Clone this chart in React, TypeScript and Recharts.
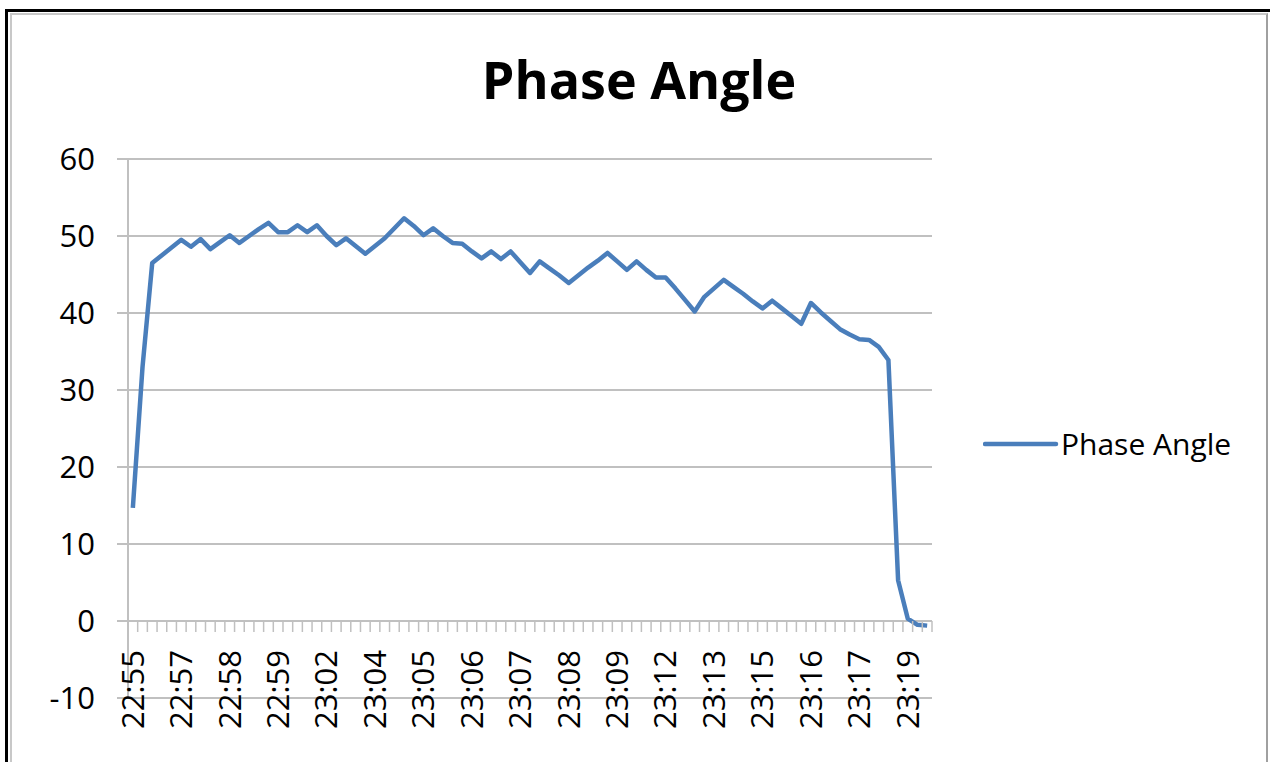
import { CartesianGrid, Legend, Line, LineChart, ReferenceLine, XAxis, YAxis } from "recharts";

// tick labels shown on every 5th category
const TIME_LABELS = [
  "22:55", "22:57", "22:58", "22:59", "23:02", "23:04", "23:05", "23:06", "23:07",
  "23:08", "23:09", "23:12", "23:13", "23:15", "23:16", "23:17", "23:19",
];

const PHASE_ANGLE = [
  14.7, 33, 46.5, 47.5, 48.5, 49.5, 48.6, 49.6, 48.3, 49.2,
  50.1, 49.1, 50, 50.9, 51.7, 50.5, 50.5, 51.4, 50.5, 51.4,
  50, 48.8, 49.7, 48.7, 47.7, 48.7, 49.7, 51, 52.3, 51.3,
  50.1, 51, 50, 49.1, 49, 48, 47.1, 48, 47, 48,
  46.6, 45.2, 46.7, 45.8, 44.9, 43.9, 44.9, 45.9, 46.8, 47.8,
  46.7, 45.6, 46.7, 45.6, 44.6, 44.6, 43.2, 41.7, 40.2, 42.1,
  43.2, 44.3, 43.4, 42.5, 41.5, 40.6, 41.6, 40.6, 39.6, 38.6,
  41.3, 40.1, 39, 37.9, 37.2, 36.6, 36.5, 35.6, 33.9, 5.3,
  0.3, -0.5, -0.6,
];

const Y_TICKS = [-10, 0, 10, 20, 30, 40, 50, 60];

const data = PHASE_ANGLE.map((value, i) => ({ i, value }));

const W = 1270;
const H = 762;
const PLOT = { left: 128, right: 932, top: 159, bottom: 698 };
const BAND = (PLOT.right - PLOT.left) / PHASE_ANGLE.length;
const Y_MIN = -10;
const Y_MAX = 60;
const ZERO_Y = PLOT.top + ((PLOT.bottom - PLOT.top) * Y_MAX) / (Y_MAX - Y_MIN);

const GRID = "#c0c0c0";
const BLUE = "#4a7ebb";
const FONT = "'Open Sans', sans-serif";

function TimeTick(props: any) {
  const { x, payload } = props;
  const i = Number(payload.value);
  const label = i % 5 === 0 ? TIME_LABELS[i / 5] : null;
  const top = 650;
  return (
    <g>
      <line x1={x + BAND / 2} x2={x + BAND / 2} y1={ZERO_Y} y2={ZERO_Y + 11} stroke={GRID} strokeWidth={1.5} />
      {label && (
        <text
          x={x}
          y={top}
          dy="0.35em"
          transform={`rotate(-90 ${x} ${top})`}
          textAnchor="end"
          fontSize={31}
          fontFamily={FONT}
          fill="#000"
        >
          {label}
        </text>
      )}
    </g>
  );
}

function LegendContent(props: any) {
  const items = props.payload ?? [];
  return (
    <div style={{ display: "flex", alignItems: "center" }}>
      {items.map((p: any) => (
        <div key={p.value} style={{ display: "flex", alignItems: "center" }}>
          <svg width={76} height={8}>
            <line x1={2} x2={73} y1={4} y2={4} stroke={p.color} strokeWidth={4.5} strokeLinecap="round" />
          </svg>
          <span style={{ fontSize: 30, fontFamily: FONT, color: "#000", marginLeft: 2 }}>{p.value}</span>
        </div>
      ))}
    </div>
  );
}

export default function App() {
  return (
    <div style={{ position: "relative", width: W, height: H, overflow: "hidden", background: "#fff" }}>
      <style>{"body{margin:0}"}</style>
      <div
        style={{
          position: "absolute",
          left: 5,
          top: 9,
          width: W,
          height: H,
          borderLeft: "3px solid #000",
          borderTop: "3px solid #000",
        }}
      />
      <div
        style={{
          position: "absolute",
          left: 10,
          top: 13,
          width: 1254,
          height: H,
          borderLeft: "2px solid #c8c8c8",
          borderTop: "2px solid #c8c8c8",
          borderRight: "2px solid #a0a0a0",
        }}
      />
      <div
        style={{
          position: "absolute",
          left: 639,
          top: 44,
          transform: "translateX(-50%)",
          fontFamily: FONT,
          fontWeight: 700,
          fontSize: 52,
          color: "#000",
          whiteSpace: "nowrap",
          lineHeight: "70px",
        }}
      >
        Phase Angle
      </div>
      <div style={{ position: "absolute", left: 0, top: 0 }}>
        <LineChart
          width={W}
          height={H}
          data={data}
          margin={{ top: PLOT.top, right: W - PLOT.right, bottom: H - PLOT.bottom - 30, left: 0 }}
        >
          <CartesianGrid vertical={false} stroke={GRID} strokeWidth={2} />
          <XAxis
            dataKey="i"
            type="category"
            interval={0}
            height={30}
            padding={{ left: BAND / 2, right: BAND / 2 }}
            axisLine={false}
            tickLine={false}
            tick={<TimeTick />}
          />
          <YAxis
            domain={[Y_MIN, Y_MAX]}
            ticks={Y_TICKS}
            interval={0}
            width={PLOT.left}
            tickSize={11}
            tickMargin={22}
            axisLine={{ stroke: GRID, strokeWidth: 2 }}
            tickLine={{ stroke: GRID, strokeWidth: 2 }}
            tick={{ fontSize: 31, fontFamily: FONT, fill: "#000" }}
          />
          <ReferenceLine y={0} stroke={GRID} strokeWidth={2} />
          <Legend
            layout="horizontal"
            align="center"
            verticalAlign="middle"
            wrapperStyle={{ left: 983, top: 423, width: 280 }}
            content={<LegendContent />}
          />
          <Line
            type="linear"
            dataKey="value"
            name="Phase Angle"
            stroke={BLUE}
            strokeWidth={4.5}
            strokeLinejoin="round"
            dot={false}
            activeDot={false}
            isAnimationActive={false}
          />
        </LineChart>
      </div>
    </div>
  );
}
